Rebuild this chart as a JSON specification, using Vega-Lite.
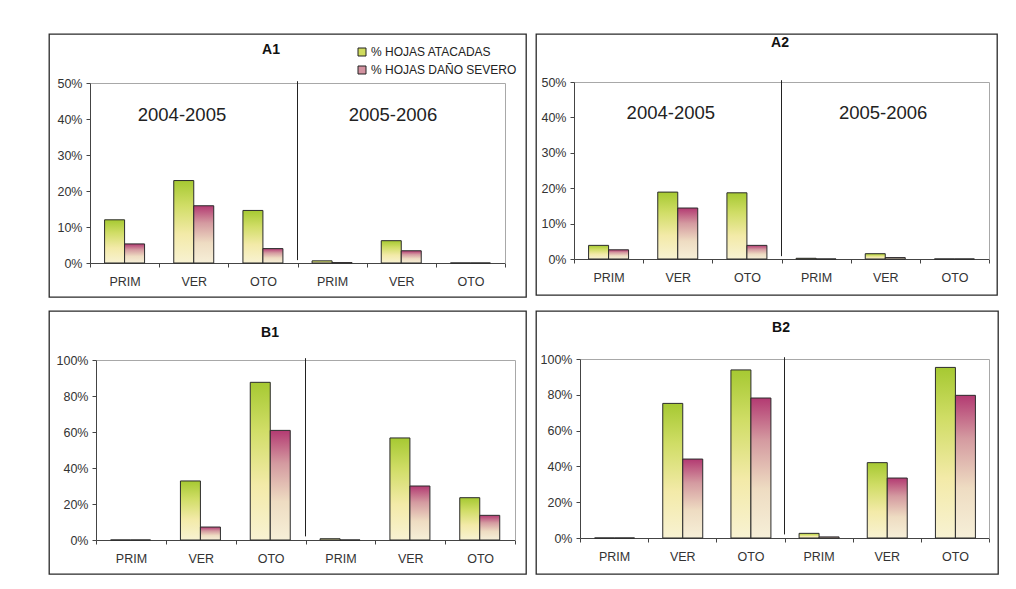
{
  "$schema": "https://vega.github.io/schema/vega-lite/v6.json",
  "background": "white",
  "padding": {"left": 48, "top": 33, "right": 5, "bottom": 5},
  "autosize": {"type": "pad"},
  "config": {
    "view": {"stroke": "#2a2a2a", "strokeWidth": 1.3},
    "font": "Liberation Sans",
    "axis": {"labelFont": "Liberation Sans", "labelFontSize": 12.5, "labelColor": "#333", "domainColor": "#444", "tickColor": "#444", "tickSize": 4, "grid": false},
    "title": {"font": "Liberation Sans", "fontSize": 14, "fontWeight": "bold", "color": "#111", "anchor": "middle", "frame": "group", "offset": 0, "baseline": "alphabetic"}
  },
  "data": {"values": [
    {"p": "A1", "cat": "PRIM1", "serie": "% HOJAS ATACADAS", "v": 0.12},
    {"p": "A1", "cat": "PRIM1", "serie": "% HOJAS DAÑO SEVERO", "v": 0.053},
    {"p": "A1", "cat": "VER1", "serie": "% HOJAS ATACADAS", "v": 0.229},
    {"p": "A1", "cat": "VER1", "serie": "% HOJAS DAÑO SEVERO", "v": 0.159},
    {"p": "A1", "cat": "OTO1", "serie": "% HOJAS ATACADAS", "v": 0.146},
    {"p": "A1", "cat": "OTO1", "serie": "% HOJAS DAÑO SEVERO", "v": 0.04},
    {"p": "A1", "cat": "PRIM2", "serie": "% HOJAS ATACADAS", "v": 0.006},
    {"p": "A1", "cat": "PRIM2", "serie": "% HOJAS DAÑO SEVERO", "v": 0.001},
    {"p": "A1", "cat": "VER2", "serie": "% HOJAS ATACADAS", "v": 0.062},
    {"p": "A1", "cat": "VER2", "serie": "% HOJAS DAÑO SEVERO", "v": 0.034},
    {"p": "A1", "cat": "OTO2", "serie": "% HOJAS ATACADAS", "v": 0},
    {"p": "A1", "cat": "OTO2", "serie": "% HOJAS DAÑO SEVERO", "v": 0},
    {"p": "A2", "cat": "PRIM1", "serie": "% HOJAS ATACADAS", "v": 0.0385},
    {"p": "A2", "cat": "PRIM1", "serie": "% HOJAS DAÑO SEVERO", "v": 0.026},
    {"p": "A2", "cat": "VER1", "serie": "% HOJAS ATACADAS", "v": 0.189},
    {"p": "A2", "cat": "VER1", "serie": "% HOJAS DAÑO SEVERO", "v": 0.144},
    {"p": "A2", "cat": "OTO1", "serie": "% HOJAS ATACADAS", "v": 0.187},
    {"p": "A2", "cat": "OTO1", "serie": "% HOJAS DAÑO SEVERO", "v": 0.0385},
    {"p": "A2", "cat": "PRIM2", "serie": "% HOJAS ATACADAS", "v": 0.002},
    {"p": "A2", "cat": "PRIM2", "serie": "% HOJAS DAÑO SEVERO", "v": 0},
    {"p": "A2", "cat": "VER2", "serie": "% HOJAS ATACADAS", "v": 0.015},
    {"p": "A2", "cat": "VER2", "serie": "% HOJAS DAÑO SEVERO", "v": 0.004},
    {"p": "A2", "cat": "OTO2", "serie": "% HOJAS ATACADAS", "v": 0},
    {"p": "A2", "cat": "OTO2", "serie": "% HOJAS DAÑO SEVERO", "v": 0},
    {"p": "B1", "cat": "PRIM1", "serie": "% HOJAS ATACADAS", "v": 0},
    {"p": "B1", "cat": "PRIM1", "serie": "% HOJAS DAÑO SEVERO", "v": 0},
    {"p": "B1", "cat": "VER1", "serie": "% HOJAS ATACADAS", "v": 0.328},
    {"p": "B1", "cat": "VER1", "serie": "% HOJAS DAÑO SEVERO", "v": 0.072},
    {"p": "B1", "cat": "OTO1", "serie": "% HOJAS ATACADAS", "v": 0.876},
    {"p": "B1", "cat": "OTO1", "serie": "% HOJAS DAÑO SEVERO", "v": 0.609},
    {"p": "B1", "cat": "PRIM2", "serie": "% HOJAS ATACADAS", "v": 0.007},
    {"p": "B1", "cat": "PRIM2", "serie": "% HOJAS DAÑO SEVERO", "v": 0},
    {"p": "B1", "cat": "VER2", "serie": "% HOJAS ATACADAS", "v": 0.567},
    {"p": "B1", "cat": "VER2", "serie": "% HOJAS DAÑO SEVERO", "v": 0.3},
    {"p": "B1", "cat": "OTO2", "serie": "% HOJAS ATACADAS", "v": 0.235},
    {"p": "B1", "cat": "OTO2", "serie": "% HOJAS DAÑO SEVERO", "v": 0.137},
    {"p": "B2", "cat": "PRIM1", "serie": "% HOJAS ATACADAS", "v": 0},
    {"p": "B2", "cat": "PRIM1", "serie": "% HOJAS DAÑO SEVERO", "v": 0},
    {"p": "B2", "cat": "VER1", "serie": "% HOJAS ATACADAS", "v": 0.752},
    {"p": "B2", "cat": "VER1", "serie": "% HOJAS DAÑO SEVERO", "v": 0.441},
    {"p": "B2", "cat": "OTO1", "serie": "% HOJAS ATACADAS", "v": 0.939},
    {"p": "B2", "cat": "OTO1", "serie": "% HOJAS DAÑO SEVERO", "v": 0.782},
    {"p": "B2", "cat": "PRIM2", "serie": "% HOJAS ATACADAS", "v": 0.026},
    {"p": "B2", "cat": "PRIM2", "serie": "% HOJAS DAÑO SEVERO", "v": 0.006},
    {"p": "B2", "cat": "VER2", "serie": "% HOJAS ATACADAS", "v": 0.421},
    {"p": "B2", "cat": "VER2", "serie": "% HOJAS DAÑO SEVERO", "v": 0.335},
    {"p": "B2", "cat": "OTO2", "serie": "% HOJAS ATACADAS", "v": 0.953},
    {"p": "B2", "cat": "OTO2", "serie": "% HOJAS DAÑO SEVERO", "v": 0.797}
  ]},
  "spacing": 12,
  "vconcat": [
    {
      "spacing": 10,
      "bounds": "flush",
      "hconcat": [
        {
          "width": 477, "height": 263,
          "title": {"text": "A1", "dx": -16.5, "dy": 27},
          "transform": [{"filter": "datum.p === 'A1'"}],
          "layer": [
            {
              "transform": [{"filter": "datum.serie === '% HOJAS ATACADAS'"}],
              "mark": {"type": "bar", "stroke": "#2b2b2b", "strokeWidth": 1, "fill": {"gradient": "linear", "x1": 0, "y1": 1, "x2": 0, "y2": 0, "stops": [{"offset": 0, "color": "#f8f2d2"}, {"offset": 0.35, "color": "#f3eaa8"}, {"offset": 0.7, "color": "#d0dd66"}, {"offset": 1, "color": "#a6c932"}]}},
              "encoding": {
                "x": {"field": "cat", "type": "nominal", "scale": {"domain": ["PRIM1", "VER1", "OTO1", "PRIM2", "VER2", "OTO2"], "range": [41, 456], "paddingInner": 0, "paddingOuter": 0}, "axis": {"orient": "bottom", "offset": -34, "tickBand": "extent", "labelExpr": "slice(datum.label, 0, -1)", "labelAngle": 0, "labelPadding": 8, "title": null}},
                "xOffset": {"field": "serie", "type": "nominal", "scale": {"domain": ["% HOJAS ATACADAS", "% HOJAS DAÑO SEVERO"], "paddingInner": 0, "paddingOuter": 0.73}},
                "y": {"field": "v", "type": "quantitative", "scale": {"domain": [0, 0.5], "range": [229, 49], "nice": false}, "axis": {"orient": "left", "offset": -41, "values": [0, 0.1, 0.2, 0.3, 0.4, 0.5], "format": ".0%", "labelPadding": 4, "title": null}}
              }
            },
            {
              "transform": [{"filter": "datum.serie === '% HOJAS DAÑO SEVERO'"}],
              "mark": {"type": "bar", "stroke": "#2b2b2b", "strokeWidth": 1, "fill": {"gradient": "linear", "x1": 0, "y1": 1, "x2": 0, "y2": 0, "stops": [{"offset": 0, "color": "#f6efd8"}, {"offset": 0.35, "color": "#eedcc2"}, {"offset": 0.7, "color": "#d49aa0"}, {"offset": 1, "color": "#b33a72"}]}},
              "encoding": {
                "x": {"field": "cat", "type": "nominal", "axis": null},
                "xOffset": {"field": "serie", "type": "nominal"},
                "y": {"field": "v", "type": "quantitative", "axis": null}
              }
            },
            {
              "mark": {"type": "square", "size": 0, "filled": true, "opacity": 1},
              "encoding": {
                "x": {"field": "cat", "type": "nominal", "axis": null},
                "y": {"field": "v", "type": "quantitative", "axis": null},
                "color": {"field": "serie", "type": "nominal", "scale": {"domain": ["% HOJAS ATACADAS", "% HOJAS DAÑO SEVERO"], "range": ["#cfdb5e", "#d392a0"]}, "legend": {"orient": "none", "legendX": 307, "legendY": 12, "title": null, "symbolType": "square", "symbolSize": 64, "symbolStrokeColor": "#222", "symbolStrokeWidth": 1, "symbolOpacity": 1, "labelFont": "Liberation Sans", "labelFontSize": 12, "labelColor": "#222", "rowPadding": 6, "labelOffset": 3, "padding": 0, "offset": 0}}
              }
            },
            {
              "data": {"values": [{}]},
              "mark": {"type": "rule", "color": "#222", "strokeWidth": 1},
              "encoding": {
                "x": {"datum": "PRIM2", "type": "nominal", "bandPosition": 0, "axis": {"orient": "top", "offset": -49, "labels": false, "ticks": false, "domainColor": "#a8a8a8", "title": null}},
                "y": {"datum": 0.505, "type": "quantitative", "axis": {"orient": "right", "offset": -21, "labels": false, "ticks": false, "domainColor": "#a8a8a8", "title": null}},
                "y2": {"datum": 0.008}
              }
            },
            {
              "data": {"values": [{}]},
              "mark": {"type": "text", "fontSize": 18.5, "font": "Liberation Sans", "color": "#222", "baseline": "middle"},
              "encoding": {
                "x": {"datum": "VER1", "type": "nominal", "bandPosition": 0.33, "axis": null},
                "y": {"datum": 0.411, "type": "quantitative", "axis": null},
                "text": {"value": "2004-2005"}
              }
            },
            {
              "data": {"values": [{}]},
              "mark": {"type": "text", "fontSize": 18.5, "font": "Liberation Sans", "color": "#222", "baseline": "middle"},
              "encoding": {
                "x": {"datum": "VER2", "type": "nominal", "bandPosition": 0.38, "axis": null},
                "y": {"datum": 0.411, "type": "quantitative", "axis": null},
                "text": {"value": "2005-2006"}
              }
            }
          ],
          "resolve": {"axis": {"x": "independent", "y": "independent"}}
        },
        {
          "width": 461, "height": 261,
          "title": {"text": "A2", "dx": 13.5, "dy": 20},
          "transform": [{"filter": "datum.p === 'A2'"}],
          "layer": [
            {
              "transform": [{"filter": "datum.serie === '% HOJAS ATACADAS'"}],
              "mark": {"type": "bar", "stroke": "#2b2b2b", "strokeWidth": 1, "fill": {"gradient": "linear", "x1": 0, "y1": 1, "x2": 0, "y2": 0, "stops": [{"offset": 0, "color": "#f8f2d2"}, {"offset": 0.35, "color": "#f3eaa8"}, {"offset": 0.7, "color": "#d0dd66"}, {"offset": 1, "color": "#a6c932"}]}},
              "encoding": {
                "x": {"field": "cat", "type": "nominal", "scale": {"domain": ["PRIM1", "VER1", "OTO1", "PRIM2", "VER2", "OTO2"], "range": [38, 453], "paddingInner": 0, "paddingOuter": 0}, "axis": {"orient": "bottom", "offset": -36, "tickBand": "extent", "labelExpr": "slice(datum.label, 0, -1)", "labelAngle": 0, "labelPadding": 8, "title": null}},
                "xOffset": {"field": "serie", "type": "nominal", "scale": {"domain": ["% HOJAS ATACADAS", "% HOJAS DAÑO SEVERO"], "paddingInner": 0, "paddingOuter": 0.73}},
                "y": {"field": "v", "type": "quantitative", "scale": {"domain": [0, 0.5], "range": [225, 48], "nice": false}, "axis": {"orient": "left", "offset": -38, "values": [0, 0.1, 0.2, 0.3, 0.4, 0.5], "format": ".0%", "labelPadding": 4, "title": null}}
              }
            },
            {
              "transform": [{"filter": "datum.serie === '% HOJAS DAÑO SEVERO'"}],
              "mark": {"type": "bar", "stroke": "#2b2b2b", "strokeWidth": 1, "fill": {"gradient": "linear", "x1": 0, "y1": 1, "x2": 0, "y2": 0, "stops": [{"offset": 0, "color": "#f6efd8"}, {"offset": 0.35, "color": "#eedcc2"}, {"offset": 0.7, "color": "#d49aa0"}, {"offset": 1, "color": "#b33a72"}]}},
              "encoding": {
                "x": {"field": "cat", "type": "nominal", "axis": null},
                "xOffset": {"field": "serie", "type": "nominal"},
                "y": {"field": "v", "type": "quantitative", "axis": null}
              }
            },
            {
              "data": {"values": [{}]},
              "mark": {"type": "rule", "color": "#222", "strokeWidth": 1},
              "encoding": {
                "x": {"datum": "PRIM2", "type": "nominal", "bandPosition": 0, "axis": {"orient": "top", "offset": -48, "labels": false, "ticks": false, "domainColor": "#a8a8a8", "title": null}},
                "y": {"datum": 0.505, "type": "quantitative", "axis": {"orient": "right", "offset": -8, "labels": false, "ticks": false, "domainColor": "#a8a8a8", "title": null}},
                "y2": {"datum": 0.008}
              }
            },
            {
              "data": {"values": [{}]},
              "mark": {"type": "text", "fontSize": 18.5, "font": "Liberation Sans", "color": "#222", "baseline": "middle"},
              "encoding": {
                "x": {"datum": "VER1", "type": "nominal", "bandPosition": 0.4, "axis": null},
                "y": {"datum": 0.412, "type": "quantitative", "axis": null},
                "text": {"value": "2004-2005"}
              }
            },
            {
              "data": {"values": [{}]},
              "mark": {"type": "text", "fontSize": 18.5, "font": "Liberation Sans", "color": "#222", "baseline": "middle"},
              "encoding": {
                "x": {"datum": "VER2", "type": "nominal", "bandPosition": 0.47, "axis": null},
                "y": {"datum": 0.412, "type": "quantitative", "axis": null},
                "text": {"value": "2005-2006"}
              }
            }
          ],
          "resolve": {"axis": {"x": "independent", "y": "independent"}}
        }
      ]
    },
    {
      "spacing": 10,
      "bounds": "flush",
      "hconcat": [
        {
          "width": 477, "height": 263,
          "title": {"text": "B1", "dx": -17.5, "dy": 33},
          "transform": [{"filter": "datum.p === 'B1'"}],
          "layer": [
            {
              "transform": [{"filter": "datum.serie === '% HOJAS ATACADAS'"}],
              "mark": {"type": "bar", "stroke": "#2b2b2b", "strokeWidth": 1, "fill": {"gradient": "linear", "x1": 0, "y1": 1, "x2": 0, "y2": 0, "stops": [{"offset": 0, "color": "#f8f2d2"}, {"offset": 0.35, "color": "#f3eaa8"}, {"offset": 0.7, "color": "#d0dd66"}, {"offset": 1, "color": "#a6c932"}]}},
              "encoding": {
                "x": {"field": "cat", "type": "nominal", "scale": {"domain": ["PRIM1", "VER1", "OTO1", "PRIM2", "VER2", "OTO2"], "range": [47, 466], "paddingInner": 0, "paddingOuter": 0}, "axis": {"orient": "bottom", "offset": -34, "tickBand": "extent", "labelExpr": "slice(datum.label, 0, -1)", "labelAngle": 0, "labelPadding": 8, "title": null}},
                "xOffset": {"field": "serie", "type": "nominal", "scale": {"domain": ["% HOJAS ATACADAS", "% HOJAS DAÑO SEVERO"], "paddingInner": 0, "paddingOuter": 0.73}},
                "y": {"field": "v", "type": "quantitative", "scale": {"domain": [0, 1], "range": [229, 49], "nice": false}, "axis": {"orient": "left", "offset": -47, "values": [0, 0.2, 0.4, 0.6, 0.8, 1], "format": ".0%", "labelPadding": 4, "title": null}}
              }
            },
            {
              "transform": [{"filter": "datum.serie === '% HOJAS DAÑO SEVERO'"}],
              "mark": {"type": "bar", "stroke": "#2b2b2b", "strokeWidth": 1, "fill": {"gradient": "linear", "x1": 0, "y1": 1, "x2": 0, "y2": 0, "stops": [{"offset": 0, "color": "#f6efd8"}, {"offset": 0.35, "color": "#eedcc2"}, {"offset": 0.7, "color": "#d49aa0"}, {"offset": 1, "color": "#b33a72"}]}},
              "encoding": {
                "x": {"field": "cat", "type": "nominal", "axis": null},
                "xOffset": {"field": "serie", "type": "nominal"},
                "y": {"field": "v", "type": "quantitative", "axis": null}
              }
            },
            {
              "data": {"values": [{}]},
              "mark": {"type": "rule", "color": "#222", "strokeWidth": 1},
              "encoding": {
                "x": {"datum": "PRIM2", "type": "nominal", "bandPosition": 0, "axis": {"orient": "top", "offset": -49, "labels": false, "ticks": false, "domainColor": "#a8a8a8", "title": null}},
                "y": {"datum": 1.01, "type": "quantitative", "axis": {"orient": "right", "offset": -11, "labels": false, "ticks": false, "domainColor": "#a8a8a8", "title": null}},
                "y2": {"datum": 0.02}
              }
            }
          ],
          "resolve": {"axis": {"x": "independent", "y": "independent"}}
        },
        {
          "width": 462, "height": 263,
          "title": {"text": "B2", "dx": 14, "dy": 28},
          "transform": [{"filter": "datum.p === 'B2'"}],
          "layer": [
            {
              "transform": [{"filter": "datum.serie === '% HOJAS ATACADAS'"}],
              "mark": {"type": "bar", "stroke": "#2b2b2b", "strokeWidth": 1, "fill": {"gradient": "linear", "x1": 0, "y1": 1, "x2": 0, "y2": 0, "stops": [{"offset": 0, "color": "#f8f2d2"}, {"offset": 0.35, "color": "#f3eaa8"}, {"offset": 0.7, "color": "#d0dd66"}, {"offset": 1, "color": "#a6c932"}]}},
              "encoding": {
                "x": {"field": "cat", "type": "nominal", "scale": {"domain": ["PRIM1", "VER1", "OTO1", "PRIM2", "VER2", "OTO2"], "range": [44, 453], "paddingInner": 0, "paddingOuter": 0}, "axis": {"orient": "bottom", "offset": -36, "tickBand": "extent", "labelExpr": "slice(datum.label, 0, -1)", "labelAngle": 0, "labelPadding": 8, "title": null}},
                "xOffset": {"field": "serie", "type": "nominal", "scale": {"domain": ["% HOJAS ATACADAS", "% HOJAS DAÑO SEVERO"], "paddingInner": 0, "paddingOuter": 0.73}},
                "y": {"field": "v", "type": "quantitative", "scale": {"domain": [0, 1], "range": [227, 48], "nice": false}, "axis": {"orient": "left", "offset": -44, "values": [0, 0.2, 0.4, 0.6, 0.8, 1], "format": ".0%", "labelPadding": 4, "title": null}}
              }
            },
            {
              "transform": [{"filter": "datum.serie === '% HOJAS DAÑO SEVERO'"}],
              "mark": {"type": "bar", "stroke": "#2b2b2b", "strokeWidth": 1, "fill": {"gradient": "linear", "x1": 0, "y1": 1, "x2": 0, "y2": 0, "stops": [{"offset": 0, "color": "#f6efd8"}, {"offset": 0.35, "color": "#eedcc2"}, {"offset": 0.7, "color": "#d49aa0"}, {"offset": 1, "color": "#b33a72"}]}},
              "encoding": {
                "x": {"field": "cat", "type": "nominal", "axis": null},
                "xOffset": {"field": "serie", "type": "nominal"},
                "y": {"field": "v", "type": "quantitative", "axis": null}
              }
            },
            {
              "data": {"values": [{}]},
              "mark": {"type": "rule", "color": "#222", "strokeWidth": 1},
              "encoding": {
                "x": {"datum": "PRIM2", "type": "nominal", "bandPosition": 0, "axis": {"orient": "top", "offset": -48, "labels": false, "ticks": false, "domainColor": "#a8a8a8", "title": null}},
                "y": {"datum": 1.01, "type": "quantitative", "axis": {"orient": "right", "offset": -9, "labels": false, "ticks": false, "domainColor": "#a8a8a8", "title": null}},
                "y2": {"datum": 0.02}
              }
            }
          ],
          "resolve": {"axis": {"x": "independent", "y": "independent"}}
        }
      ]
    }
  ]
}
